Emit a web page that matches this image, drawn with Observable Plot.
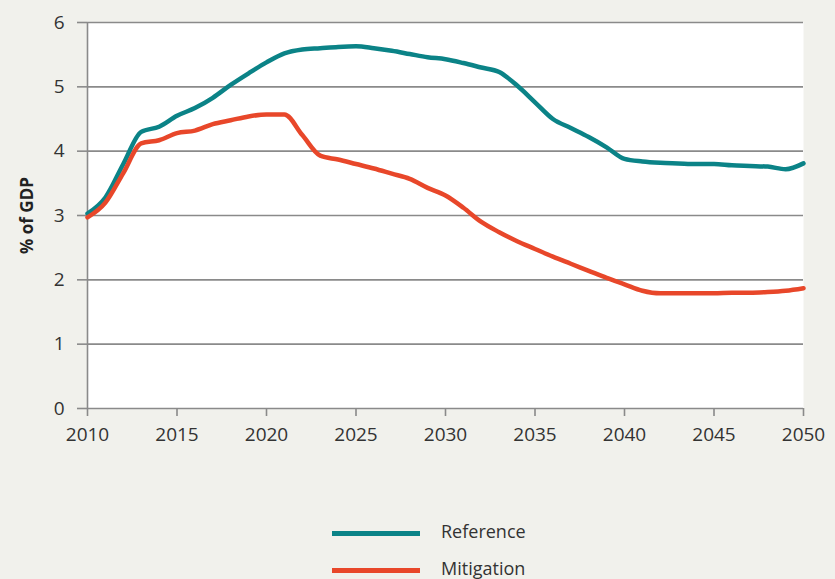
<!DOCTYPE html>
<html>
<head>
<meta charset="utf-8">
<script src="https://cdn.jsdelivr.net/npm/d3@7"></script>
<script src="https://cdn.jsdelivr.net/npm/@observablehq/plot@0.6"></script>
<style>
  html, body { margin: 0; padding: 0; background: #f1f1ec; }
  #wrap { width: 835px; height: 579px; position: relative; overflow: hidden; font-family: "Open Sans", sans-serif; color: #333; }
  .leg { position: absolute; left: 0; font-size: 18px; }
  .leg .sw { position: absolute; left: 332px; width: 88px; height: 5px; }
  .leg .lab { position: absolute; left: 441px; white-space: nowrap; }
</style>
</head>
<body>
<div id="wrap"></div>
<script>
const years = d3.range(2010, 2051);
const seriesNames = ["Reference", "Mitigation"];
const seriesColors = ["#0b8387", "#e8472a"];
const referenceValues = [
  3.03, 3.28, 3.80, 4.30, 4.38, 4.55, 4.67, 4.83, 5.03, 5.21,
  5.38, 5.52, 5.58, 5.60, 5.62, 5.63, 5.60, 5.56, 5.51, 5.46,
  5.43, 5.37, 5.30, 5.23, 5.02, 4.76, 4.50, 4.36, 4.22, 4.06,
  3.88, 3.84, 3.82, 3.81, 3.80, 3.80, 3.78, 3.77, 3.76, 3.72,
  3.81
];
const mitigationValues = [
  2.97, 3.20, 3.66, 4.12, 4.17, 4.28, 4.32, 4.42, 4.48, 4.54,
  4.57, 4.57, 4.25, 3.93, 3.87, 3.80, 3.73, 3.65, 3.57, 3.43,
  3.31, 3.12, 2.90, 2.74, 2.60, 2.48, 2.36, 2.25, 2.14, 2.03,
  1.93, 1.83, 1.79, 1.79, 1.79, 1.79, 1.80, 1.80, 1.81, 1.83,
  1.87
];
const xTicks = [2010, 2015, 2020, 2025, 2030, 2035, 2040, 2045, 2050];
const yTicks = [0, 1, 2, 3, 4, 5, 6];
const yLabel = "% of GDP";

const data = [];
years.forEach((y, i) => {
  data.push({year: y, value: referenceValues[i], series: seriesNames[0]});
  data.push({year: y, value: mitigationValues[i], series: seriesNames[1]});
});

const chart = Plot.plot({
  width: 835,
  height: 460,
  marginTop: 22,
  marginBottom: 52,
  marginLeft: 87,
  marginRight: 32,
  style: {background: "#f1f1ec", fontFamily: "Open Sans, sans-serif", fontSize: "19px", color: "#333", overflow: "visible"},
  x: {domain: [2010, 2050]},
  y: {domain: [0, 6]},
  color: {domain: seriesNames, range: seriesColors},
  marks: [
    Plot.frame({fill: "white", stroke: null}),
    Plot.ruleY(yTicks, {x1: 2010, x2: 2050, stroke: "#8a8a8a", strokeWidth: 1.6}),
    Plot.ruleX([2010], {stroke: "#8a8a8a", strokeWidth: 1.6}),
    Plot.axisY({ticks: yTicks, tickSize: 10, tickPadding: 13, tickFormat: d => String(d), stroke: "#8a8a8a", strokeWidth: 1.6, label: null, fill: "#333", fontSize: 19}),
    Plot.axisX({ticks: xTicks, tickSize: 8, tickPadding: 11, tickFormat: d => String(d), stroke: "#8a8a8a", strokeWidth: 1.6, label: null, fill: "#333", fontSize: 19}),
    Plot.text([yLabel], {frameAnchor: "left", dx: -60, dy: 0, rotate: -90, fontWeight: "bold", fontSize: 17, fill: "#222", textAnchor: "middle"}),
    Plot.line(data, {x: "year", y: "value", stroke: "series", strokeWidth: 4.5, curve: "monotone-x"})
  ]
});

const wrap = document.getElementById("wrap");
wrap.appendChild(chart);

const legTops = [533, 570];
seriesNames.forEach((name, i) => {
  const row = document.createElement("div");
  row.className = "leg";
  row.style.top = legTops[i] + "px";
  const sw = document.createElement("div");
  sw.className = "sw";
  sw.style.background = seriesColors[i];
  sw.style.top = "-2.5px";
  const lab = document.createElement("div");
  lab.className = "lab";
  lab.textContent = name;
  lab.style.top = "-14px";
  row.appendChild(sw);
  row.appendChild(lab);
  wrap.appendChild(row);
});
</script>
</body>
</html>
